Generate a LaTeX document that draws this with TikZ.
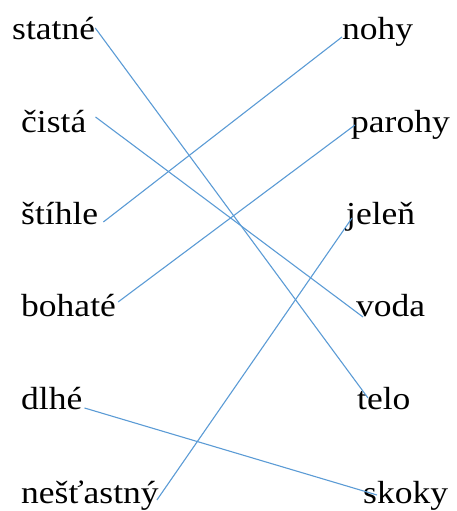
\documentclass[tikz,border=0pt]{standalone}
\usepackage{fontspec}
\setmainfont[FakeStretch=1.11]{Liberation Serif}
\tikzset{
  palabra/.style={anchor=base west, inner sep=0pt, font=\fontsize{32}{38}\selectfont},
  enlace/.style={draw={rgb,255:red,91;green,155;blue,213}, line width=1.1pt}
}
\begin{document}
\begin{tikzpicture}[x=1pt, y=1pt]
        \useasboundingbox (0,0) rectangle (457,511);

        % Columna izquierda
        \node[palabra] (statne) at (12,471) {statné};
        \node[palabra] (cista) at (21,378) {čistá};
        \node[palabra] (stihle) at (21,286) {štíhle};
        \node[palabra] (bohate) at (21,194) {bohaté};
        \node[palabra] (dlhe) at (21,101) {dlhé};
        \node[palabra] (nestastny) at (21,8) {nešťastný};

        % Columna derecha
        \node[palabra] (nohy) at (342,471) {nohy};
        \node[palabra] (parohy) at (351,378) {parohy};
        \node[palabra] (jelen) at (346,286) {jeleň};
        \node[palabra] (voda) at (356,194) {voda};
        \node[palabra] (telo) at (357,101) {telo};
        \node[palabra] (skoky) at (363,8) {skoky};

        % Parejas
        \draw[enlace] ([shift={(0,12)}]statne.base east) -- ([shift={(11,12)}]telo.base west);
        \draw[enlace] ([shift={(9,16)}]cista.base east) -- ([shift={(7,0)}]voda.base west);
        \draw[enlace] ([shift={(5,3)}]stihle.base east) -- ([shift={(0,3)}]nohy.base west);
        \draw[enlace] ([shift={(2,15)}]bohate.base east) -- ([shift={(4,8)}]parohy.base west);
        \draw[enlace] ([shift={(2,2)}]dlhe.base east) -- ([shift={(14,8)}]skoky.base west);
        \draw[enlace] ([shift={(-2,3)}]nestastny.base east) -- ([shift={(6,7)}]jelen.base west);
    \end{tikzpicture}
\end{document}
